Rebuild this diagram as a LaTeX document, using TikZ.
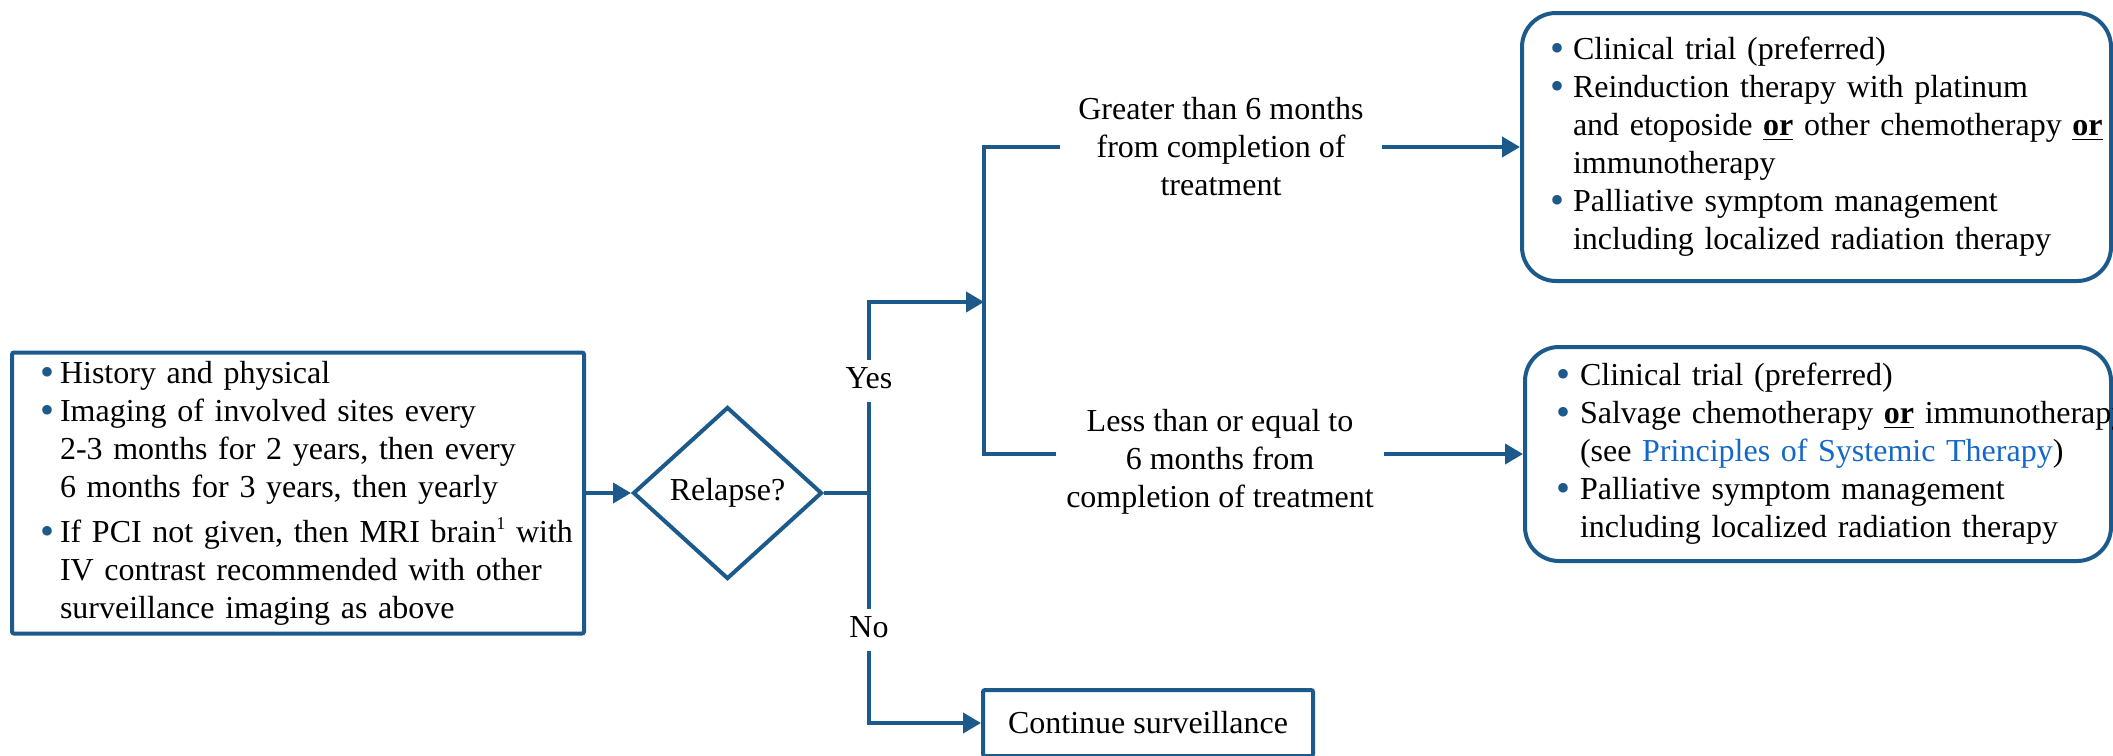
\documentclass[tikz,border=0pt]{standalone}
\usepackage{fontspec}
\setmainfont{Liberation Serif}
\usetikzlibrary{shapes.geometric,arrows.meta}
\definecolor{lineblue}{RGB}{28,90,140}
\definecolor{linkblue}{RGB}{20,105,200}
\setlength{\parindent}{0pt}
\newcommand{\mydot}{{\color{lineblue}\raisebox{-1pt}{\fontsize{20pt}{20pt}\selectfont\textbullet}}}
\newcommand{\mybul}[2]{\mbox{\makebox[#1][l]{\mydot}#2}}
\newcommand{\mycont}[2]{\mbox{\hspace*{#1}#2}}
\newcommand{\uor}{\textbf{\underline{or}}}
\newcommand{\mysup}[1]{\raisebox{6.5pt}{\fontsize{9pt}{9pt}\selectfont #1}}
\begin{document}
\begin{tikzpicture}[x=0.5pt,y=-0.5pt,
  ln/.style={draw=lineblue,line width=2pt},
  arr/.style={ln,-{Triangle[length=9pt,width=10pt]}},
  txt/.style={font=\fontsize{16pt}{19pt}\selectfont},
  box/.style={txt,draw=lineblue,line width=2pt,align=left,inner ysep=0pt},
  lab/.style={txt,align=center,inner ysep=0pt}
]
\clip (0,0) rectangle (2113,755);
\fill[white] (0,0) rectangle (2113,755);

\node[box,rounded corners=1pt,minimum width=286pt,minimum height=140.5pt,
  inner xsep=14pt,text width=258pt] (hist) at (298,493) {%
\mybul{10pt}{History and physical}\\
\mybul{10pt}{Imaging of involved sites every}\\
\mycont{10pt}{2-3 months for 2 years, then every}\\
\mycont{10pt}{6 months for 3 years, then yearly}\\[3.5pt]
\mybul{10pt}{If PCI not given, then MRI brain\mysup{1} with}\\
\mycont{10pt}{IV contrast recommended with other}\\
\mycont{10pt}{surveillance imaging as above}};

\node[txt,draw=lineblue,line width=2pt,diamond,aspect=1.1,minimum width=94.5pt,
  minimum height=86pt,inner sep=0pt] (rel) at (727.5,493) {Relapse?};

\node[lab,inner ysep=3pt,text height=11pt,text depth=3.5pt] (yes) at (869,381) {Yes};
\node[lab,inner ysep=3pt,text height=11pt,text depth=3.5pt] (no) at (869,630) {No};

\node[lab,inner xsep=9pt] (gt) at (1221,147) {Greater than 6 months\\from completion of\\treatment};
\node[lab,inner xsep=5pt] (lt) at (1220,462) {Less than or equal to\\6 months from\\completion of treatment};

\node[box,rounded corners=17pt,minimum width=294.5pt,minimum height=134pt,
  inner xsep=14pt,text width=266.5pt] (box1) at (1816.5,147) {%
\mybul{11.5pt}{Clinical trial (preferred)}\\
\mybul{11.5pt}{Reinduction therapy with platinum}\\
\mycont{11.5pt}{and etoposide \uor{} other chemotherapy \uor}\\
\mycont{11.5pt}{immunotherapy}\\
\mybul{11.5pt}{Palliative symptom management}\\
\mycont{11.5pt}{including localized radiation therapy}};

\node[box,rounded corners=17pt,minimum width=293pt,minimum height=107pt,
  inner xsep=15.5pt,text width=262pt] (box2) at (1818,454) {%
\mybul{12pt}{Clinical trial (preferred)}\\
\mybul{12pt}{Salvage chemotherapy \uor{} immunotherapy}\\
\mycont{12pt}{(see \textcolor{linkblue}{Principles of Systemic Therapy})}\\
\mybul{12pt}{Palliative symptom management}\\
\mycont{12pt}{including localized radiation therapy}};

\node[box,align=center,rounded corners=1pt,minimum width=165pt,minimum height=33pt,
  inner sep=0pt] (cont) at (1148,723) {Continue surveillance};

\coordinate (J) at (869,493);
\coordinate (S2t) at (984,147);
\coordinate (S2m) at (984,302);
\coordinate (S2b) at (984,454);

\draw[arr] (hist.east) -- (rel.west);
\draw[ln] (rel.east) -- (J);
\draw[ln] (J) -- (yes.south);
\draw[arr] (yes.north) |- (S2m);
\draw[ln] (J) -- (no.north);
\draw[arr] (no.south) |- (cont.west);
\draw[ln] (gt.west) -- (S2t) -- (S2b) -- (lt.west |- S2b);
\draw[arr] (gt.east) -- (box1.west);
\draw[arr] (lt.east |- S2b) -- (box2.west);
\end{tikzpicture}
\end{document}
